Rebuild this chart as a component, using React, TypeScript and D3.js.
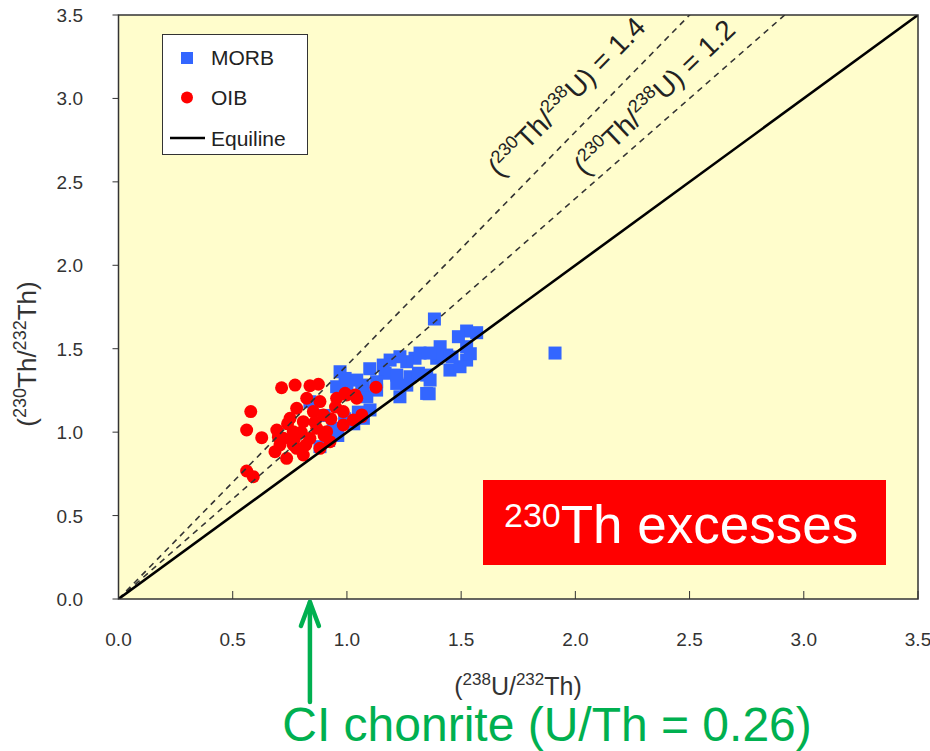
import React from "react";
import * as d3 from "d3";

// ---- data ----
const morbX = [1.383,1.911,1.524,1.568,1.488,1.524,1.524,1.408,1.437,1.393,1.364,1.320,1.298,1.262,1.232,1.189,1.159,1.167,1.218,1.276,1.313,1.349,1.364,1.451,1.495,1.218,1.262,1.232,1.349,1.130,1.130,0.970,0.992,1.043,1.072,1.087,1.101,1.072,0.955,0.940,0.882,0.838,1.065,0.990,1.030,1.050,0.960,0.920,1.360,1.460,1.540,1.100,1.000,0.900];
const morbY = [1.678,1.474,1.606,1.596,1.572,1.512,1.432,1.512,1.462,1.443,1.474,1.474,1.443,1.422,1.452,1.432,1.402,1.353,1.342,1.332,1.353,1.342,1.312,1.372,1.392,1.292,1.282,1.212,1.232,1.302,1.252,1.362,1.322,1.312,1.272,1.212,1.133,1.083,1.272,1.023,0.913,1.182,1.282,1.080,1.050,1.120,0.980,0.950,1.230,1.450,1.470,1.380,1.280,1.100];
const oibX = [0.714,0.773,0.838,0.875,0.579,0.561,0.627,0.561,0.590,0.685,0.736,0.693,0.722,0.765,0.751,0.780,0.824,0.809,0.853,0.868,0.838,0.780,0.809,0.911,0.926,0.955,0.999,1.043,0.984,1.028,1.065,0.984,0.897,0.882,0.765,0.707,0.820,0.882,1.127,0.992,1.036,1.065,0.740,0.800,0.860,0.930,0.770,0.700,0.950,0.900];
const oibY = [1.266,1.282,1.278,1.287,1.123,1.013,0.967,0.767,0.733,0.883,0.843,1.013,0.963,1.003,1.083,1.143,1.203,1.063,1.123,1.023,0.963,0.903,0.863,1.003,0.943,1.203,1.223,1.203,1.123,1.073,1.103,1.043,1.103,1.183,0.923,0.923,0.923,0.903,1.269,1.233,1.223,1.093,1.050,1.000,1.060,1.080,0.960,0.970,1.150,0.980];
const ticks = [0, 0.5, 1.0, 1.5, 2.0, 2.5, 3.0, 3.5];
const ratioLines = [1.4, 1.2];
const legendLabels = ["MORB", "OIB", "Equiline"];
const arrowX = 0.838;

const W = 930, H = 751;
const M = { left: 118.5, right: 918, top: 15, bottom: 599 };
const FONT = "'Liberation Sans', Arial, sans-serif";
const BLUE = "#3366FF", RED = "#FF0000", GREEN = "#00B050";

export default function App() {
  const x = d3.scaleLinear().domain([0, 3.5]).range([M.left, M.right]);
  const y = d3.scaleLinear().domain([0, 3.5]).range([M.bottom, M.top]);
  const line = d3.line<[number, number]>().x(d => x(d[0])).y(d => y(d[1]));

  const labelCfg: Record<string, { xv: number; dx: number; ang: number }> = {
    "1.4": { xv: 1.80, dx: -30, ang: -45.5 },
    "1.2": { xv: 2.108, dx: -15, ang: -43.7 },
  };

  return (
    <svg width={W} height={H} style={{ position: "absolute", left: 0, top: 0, background: "#fff" }}>
      <defs>
        <clipPath id="plot">
          <rect x={M.left} y={M.top} width={M.right - M.left} height={M.bottom - M.top} />
        </clipPath>
      </defs>
      <rect x={M.left} y={M.top} width={M.right - M.left} height={M.bottom - M.top} fill="#FFFDCC" />

      <g>
        {morbX.map((v, i) => (
          <rect key={"m" + i} x={x(v) - 6.5} y={y(morbY[i]) - 6.5} width={13} height={13} fill={BLUE} />
        ))}
        {oibX.map((v, i) => (
          <circle key={"o" + i} cx={x(v)} cy={y(oibY[i])} r={6.5} fill={RED} />
        ))}
      </g>

      <g clipPath="url(#plot)">
        {ratioLines.map(r => (
          <path key={r} d={line([[0, 0], [3.5, 3.5 * r]]) || ""} stroke="#333" strokeWidth={1.6} strokeDasharray="6,5" fill="none" />
        ))}
        <path d={line([[0, 0], [3.5, 3.5]]) || ""} stroke="#000" strokeWidth={2.6} fill="none" />
      </g>

      {ratioLines.map(r => {
        const c = labelCfg[r.toFixed(1)];
        const px = x(c.xv) + c.dx, py = y(c.xv * r);
        return (
          <text key={"l" + r} transform={`translate(${px},${py}) rotate(${c.ang})`} fontFamily={FONT} fontSize={28} fill="#222">
            (<tspan fontSize={18} dy={-11}>230</tspan><tspan dy={11}>Th/</tspan><tspan fontSize={18} dy={-11}>238</tspan><tspan dy={11}>U) = {r.toFixed(1)}</tspan>
          </text>
        );
      })}

      <rect x={M.left} y={M.top} width={M.right - M.left} height={M.bottom - M.top} fill="none" stroke="#333" strokeWidth={1.5} />

      {ticks.map(t => (
        <g key={"x" + t}>
          <line x1={x(t)} x2={x(t)} y1={M.bottom} y2={M.bottom - 8} stroke="#333" strokeWidth={1} />
          <text x={x(t)} y={646} textAnchor="middle" fontFamily={FONT} fontSize={19} fill="#333">{t.toFixed(1)}</text>
        </g>
      ))}
      {ticks.map(t => (
        <g key={"y" + t}>
          <line x1={M.left - 6} x2={M.left} y1={y(t)} y2={y(t)} stroke="#333" strokeWidth={1} />
          <text x={83} y={y(t) + 7} textAnchor="end" fontFamily={FONT} fontSize={19} fill="#333">{t.toFixed(1)}</text>
        </g>
      ))}

      <text x={518} y={695} textAnchor="middle" fontFamily={FONT} fontSize={25} fill="#333">
        (<tspan fontSize={17} dy={-10}>238</tspan><tspan dy={10}>U/</tspan><tspan fontSize={17} dy={-10}>232</tspan><tspan dy={10}>Th)</tspan>
      </text>
      <text transform={`translate(36,354) rotate(-90)`} textAnchor="middle" fontFamily={FONT} fontSize={26} fill="#333">
        (<tspan fontSize={18} dy={-10}>230</tspan><tspan dy={10}>Th/</tspan><tspan fontSize={18} dy={-10}>232</tspan><tspan dy={10}>Th)</tspan>
      </text>

      <g>
        <rect x={162.5} y={34.5} width={145} height={120} fill="#fff" stroke="#333" strokeWidth={1} />
        <rect x={181} y={52} width={12} height={12} fill={BLUE} />
        <circle cx={187} cy={97.5} r={6} fill={RED} />
        <line x1={170} x2={205} y1={138} y2={138} stroke="#000" strokeWidth={2.5} />
        {legendLabels.map((l, i) => (
          <text key={l} x={211} y={[65, 105, 146][i]} fontFamily={FONT} fontSize={21} fill="#222">{l}</text>
        ))}
      </g>

      <rect x={483} y={480} width={403} height={85} fill={RED} />
      <text x={504} y={543} fontFamily={FONT} fontSize={53} fill="#fff">
        <tspan fontSize={34} dy={-16}>230</tspan><tspan dy={16}>Th excesses</tspan>
      </text>

      <g stroke={GREEN} strokeWidth={4.5} fill="none" strokeLinecap="round" strokeLinejoin="round">
        <line x1={x(arrowX)} x2={x(arrowX)} y1={702} y2={602} />
        <polyline points={`${x(arrowX) - 9},${626} ${x(arrowX)},${602} ${x(arrowX) + 9},${626}`} />
      </g>
      <text x={547} y={741} textAnchor="middle" fontFamily={FONT} fontSize={48} fill={GREEN}>CI chonrite (U/Th = 0.26)</text>
    </svg>
  );
}
